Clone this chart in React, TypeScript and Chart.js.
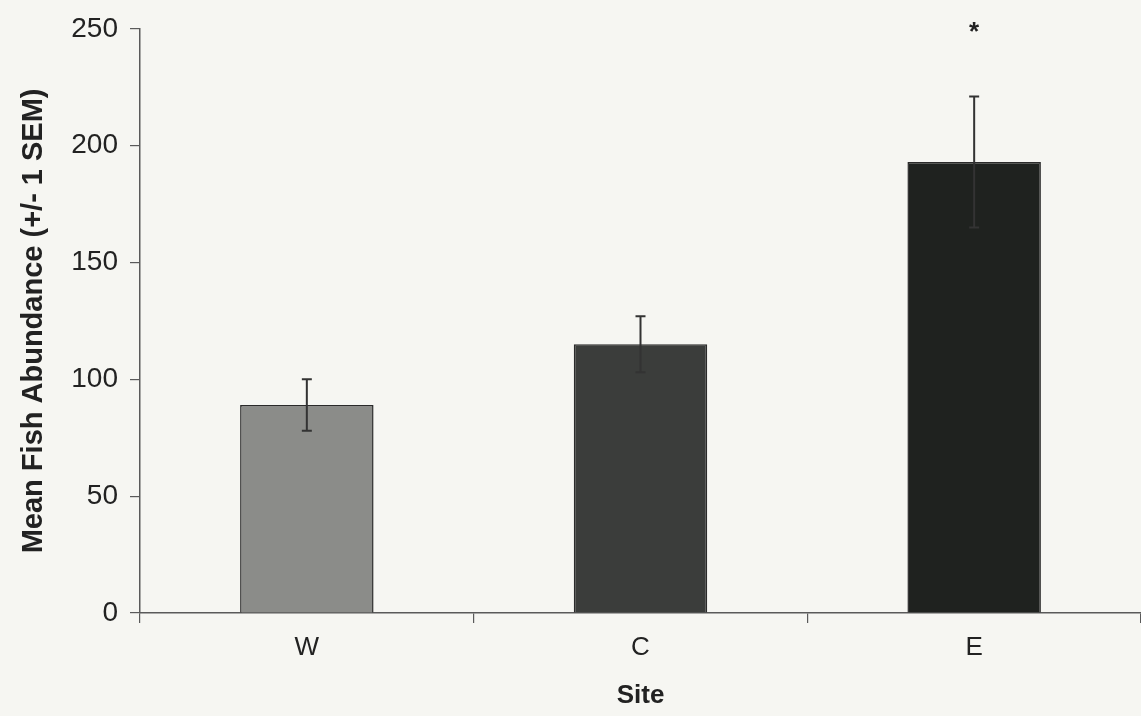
import React, { useEffect, useRef } from "react";
import { Chart, registerables } from "chart.js";

Chart.register(...registerables);

const sites = ["W", "C", "E"];
const meanAbundance = [89, 115, 193];
const sem = [11, 12, 28];
const significance = ["", "", "*"];
const barColors = ["#8b8c89", "#3b3d3b", "#1f221f"];
const yTicks = [0, 50, 100, 150, 200, 250];

const FONT = "'Liberation Sans', Arial, Helvetica, sans-serif";

const errorBarPlugin = {
  id: "errorBars",
  afterDatasetsDraw(chart: any) {
    const meta = chart.getDatasetMeta(0);
    const yScale = chart.scales.y;
    const ctx = chart.ctx;
    ctx.save();
    ctx.strokeStyle = "#333333";
    ctx.lineWidth = 2;
    meta.data.forEach((bar: any, i: number) => {
      const x = bar.x;
      const top = yScale.getPixelForValue(meanAbundance[i] + sem[i]);
      const bottom = yScale.getPixelForValue(meanAbundance[i] - sem[i]);
      ctx.beginPath();
      ctx.moveTo(x, top);
      ctx.lineTo(x, bottom);
      ctx.moveTo(x - 5, top);
      ctx.lineTo(x + 5, top);
      ctx.moveTo(x - 5, bottom);
      ctx.lineTo(x + 5, bottom);
      ctx.stroke();
      if (significance[i]) {
        ctx.fillStyle = "#222";
        ctx.font = `bold 26px ${FONT}`;
        ctx.textAlign = "center";
        ctx.textBaseline = "middle";
        ctx.fillText(significance[i], x, top - 64);
      }
    });
    ctx.restore();
  },
};

export default function App() {
  const canvasRef = useRef<HTMLCanvasElement | null>(null);

  useEffect(() => {
    if (!canvasRef.current) return;
    const chart = new Chart(canvasRef.current, {
      type: "bar",
      data: {
        labels: sites,
        datasets: [
          {
            data: meanAbundance,
            backgroundColor: barColors,
            borderColor: "#2a2a2a",
            borderWidth: 1.5,
            barPercentage: 0.4,
            categoryPercentage: 1,
          },
        ],
      },
      options: {
        animation: false,
        responsive: false,
        layout: { padding: { top: 0, right: 0, bottom: 0, left: 0 } },
        plugins: {
          legend: { display: false },
          tooltip: { enabled: false },
        },
        scales: {
          x: {
            afterFit(scale: any) {
              scale.height = 103;
            },
            grid: {
              offset: true,
              drawOnChartArea: false,
              drawTicks: true,
              tickLength: 10,
              color: "#5a5a5a",
              lineWidth: 1.2,
            },
            border: { display: true, color: "#5a5a5a", width: 1.5 },
            ticks: {
              color: "#222",
              font: { family: FONT, size: 26 },
              padding: 9,
            },
            title: {
              display: true,
              text: "Site",
              color: "#222",
              font: { family: FONT, size: 26, weight: "bold" },
              padding: { top: 0, bottom: 5 },
            },
          },
          y: {
            min: 0,
            max: 250,
            afterFit(scale: any) {
              scale.width = 140;
            },
            afterBuildTicks(scale: any) {
              scale.ticks = yTicks.map((v) => ({ value: v }));
            },
            grid: {
              drawOnChartArea: false,
              drawTicks: true,
              tickLength: 10,
              color: "#5a5a5a",
              lineWidth: 1.2,
            },
            border: { display: true, color: "#5a5a5a", width: 1.5 },
            ticks: {
              color: "#222",
              font: { family: FONT, size: 28 },
              padding: 12,
            },
            title: {
              display: true,
              text: "Mean Fish Abundance (+/- 1 SEM)",
              color: "#222",
              font: { family: FONT, size: 29, weight: "bold" },
              padding: { top: 17, bottom: 0 },
            },
          },
        },
      },
      plugins: [errorBarPlugin],
    });
    return () => chart.destroy();
  }, []);

  return (
    <div
      style={{
        position: "fixed",
        left: 0,
        top: 0,
        width: 1141,
        height: 716,
        background: "#f6f6f2",
      }}
    >
      <canvas ref={canvasRef} width={1141} height={716} />
    </div>
  );
}
